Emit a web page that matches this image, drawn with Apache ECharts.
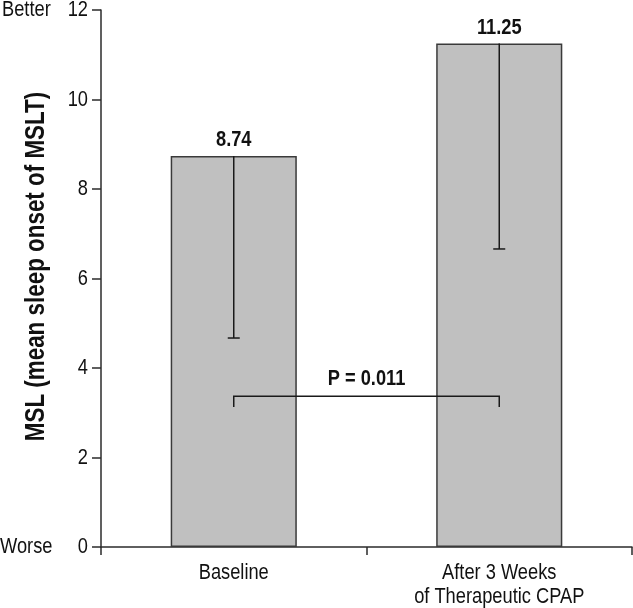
<!DOCTYPE html>
<html><head><meta charset="utf-8">
<script src="https://cdn.jsdelivr.net/npm/echarts@6/dist/echarts.min.js"></script>
<style>html,body{margin:0;padding:0;background:#fff}#c{width:633px;height:608px}</style>
</head><body><div id="c"></div>
<script>
var categories = ['Baseline', 'After 3 Weeks\nof Therapeutic CPAP'];
var meanValues = [8.74, 11.25];
var lowerValues = [4.67, 6.66];
var yTicks = [0, 2, 4, 6, 8, 10, 12];
var yTitle = 'MSL (mean sleep onset of MSLT)';
var topNote = 'Better';
var bottomNote = 'Worse';
var pText = 'P = 0.011';
var bracketLevel = 3.37;
var bracketDrop = 3.13;

var FONT = '"Liberation Sans", Arial, Helvetica, sans-serif';
var NARROW = 0.83;
var LINE = '#2b2b2b';
var chart = echarts.init(document.getElementById('c'), null, {renderer: 'canvas'});
chart.setOption({
  animation: false,
  grid: {left: 101, right: 1, top: 10, bottom: 61},
  xAxis: {
    type: 'category', data: categories,
    axisLine: {lineStyle: {color: LINE, width: 1.5}},
    axisTick: {show: true, inside: false, length: 8, lineStyle: {color: LINE, width: 1.5}},
    axisLabel: {show: false}
  },
  yAxis: {
    type: 'value', min: 0, max: 12, interval: 2,
    axisLine: {show: true, lineStyle: {color: LINE, width: 1.5}},
    axisTick: {show: true, length: 9, lineStyle: {color: LINE, width: 1.5}},
    splitLine: {show: false},
    axisLabel: {show: false}
  },
  series: [
    {
      type: 'bar', data: meanValues, barWidth: '47.5%',
      itemStyle: {color: '#c0c0c0', borderColor: '#3a3a3a', borderWidth: 1.5}
    },
    {
      type: 'custom', z: 5,
      data: meanValues.map(function (v, i) { return [i, v, lowerValues[i]]; }),
      renderItem: function (params, api) {
        var top = api.coord([api.value(0), api.value(1)]);
        var bot = api.coord([api.value(0), api.value(2)]);
        var cw = 6;
        return {type: 'group', children: [
          {type: 'line', shape: {x1: top[0], y1: top[1], x2: bot[0], y2: bot[1]}, style: {stroke: '#1a1a1a', lineWidth: 1.5}},
          {type: 'line', shape: {x1: bot[0] - cw, y1: bot[1], x2: bot[0] + cw, y2: bot[1]}, style: {stroke: '#1a1a1a', lineWidth: 1.5}},
          {type: 'text', x: top[0], y: top[1] - 16, scaleX: NARROW,
            style: {text: api.value(1).toFixed(2), align: 'center', verticalAlign: 'middle',
              textAlign: 'center', textVerticalAlign: 'middle', fill: '#111', font: 'bold 22px ' + FONT}}
        ]};
      }
    },
    {
      type: 'custom', z: 6,
      data: [[0, 1, bracketLevel, bracketDrop]],
      renderItem: function (params, api) {
        var a = api.coord([api.value(0), api.value(2)]);
        var b = api.coord([api.value(1), api.value(2)]);
        var d = api.coord([api.value(0), api.value(3)]);
        return {type: 'group', children: [
          {type: 'polyline', shape: {points: [[a[0], d[1]], a, b, [b[0], d[1]]]}, style: {stroke: '#1a1a1a', lineWidth: 1.5, fill: null}},
          {type: 'text', x: (a[0] + b[0]) / 2, y: a[1] - 17, scaleX: NARROW,
            style: {text: pText, align: 'center', verticalAlign: 'middle', textAlign: 'center', textVerticalAlign: 'middle',
              fill: '#111', font: 'bold 22px ' + FONT}}
        ]};
      }
    }
  ]
});

function txt(text, x, y, font, align, extra) {
  var el = {type: 'text', x: x, y: y, scaleX: NARROW, silent: true,
    style: {text: text, font: font, fill: '#111', align: align, verticalAlign: 'middle',
      textAlign: align, textVerticalAlign: 'middle'}};
  if (extra) { for (var k in extra) el[k] = extra[k]; }
  return el;
}
var g = [];
var axisY = chart.convertToPixel({yAxisIndex: 0}, 0);
var axisX = chart.convertToPixel({xAxisIndex: 0}, 0) - 132.75;
yTicks.forEach(function (t) {
  var py = chart.convertToPixel({yAxisIndex: 0}, t);
  g.push(txt(String(t), 88, py, '22px ' + FONT, 'right'));
});
g.push(txt(topNote, 2, chart.convertToPixel({yAxisIndex: 0}, 12), '22px ' + FONT, 'left'));
g.push(txt(bottomNote, 0, axisY, '22px ' + FONT, 'left'));
categories.forEach(function (c, i) {
  var px = chart.convertToPixel({xAxisIndex: 0}, i);
  c.split('\n').forEach(function (line, k) {
    g.push(txt(line, px, axisY + 26 + k * 24, '22px ' + FONT, 'center'));
  });
});
var midY = (chart.convertToPixel({yAxisIndex: 0}, 0) + chart.convertToPixel({yAxisIndex: 0}, 12)) / 2;
g.push(txt(yTitle, 37, midY - 12, 'bold 27px ' + FONT, 'center', {rotation: Math.PI / 2}));
chart.setOption({graphic: g});
</script></body></html>
